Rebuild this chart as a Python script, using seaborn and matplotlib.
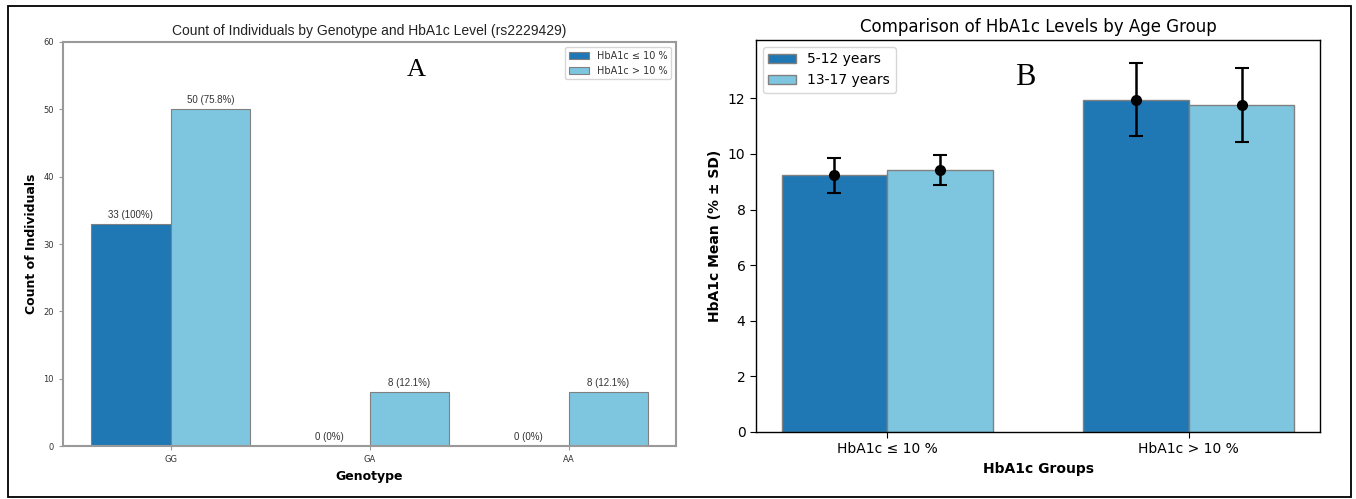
import numpy as np
import pandas as pd
import seaborn as sns
import matplotlib.pyplot as plt
from matplotlib.patches import Rectangle

# panel A data
genotypes = ["GG", "GA", "AA"]
levels = ["HbA1c \u2264 10 %", "HbA1c > 10 %"]
count_low = [33, 0, 0]
count_high = [50, 8, 8]
pct_low = ["100%", "0%", "0%"]
pct_high = ["75.8%", "12.1%", "12.1%"]

# panel B data
hba1c_groups = ["HbA1c \u2264 10 %", "HbA1c > 10 %"]
age_groups = ["5-12 years", "13-17 years"]
mean_young = [9.23, 11.95]
mean_old = [9.42, 11.76]
sd_young = [0.62, 1.32]
sd_old = [0.53, 1.33]

dark_blue = "#1f77b4"
light_blue = "#7ec6e0"

sns.set_style("white", {"text.color": "black", "axes.labelcolor": "black",
                        "xtick.color": "black", "ytick.color": "black"})
plt.rcParams['font.family'] = ['DejaVu Sans']

fig = plt.figure(figsize=(13.56, 4.99), dpi=100)
ax_a = fig.add_axes([0.0465, 0.106, 0.452, 0.810])
ax_b = fig.add_axes([0.5575, 0.1343, 0.416, 0.7857])

# outer frame round the whole figure
fig.patches.append(Rectangle((8 / 1356, 2 / 499), 1343 / 1356, 491 / 499,
                             transform=fig.transFigure, fill=False,
                             edgecolor="black", linewidth=1.3))

# ---------- Panel A ----------
df_a = pd.DataFrame({
    "Genotype": genotypes * 2,
    "Level": [levels[0]] * 3 + [levels[1]] * 3,
    "Count": count_low + count_high,
    "Label": ["{} ({})".format(c, p) for c, p in zip(count_low, pct_low)] +
             ["{} ({})".format(c, p) for c, p in zip(count_high, pct_high)],
})
sns.barplot(data=df_a, x="Genotype", y="Count", hue="Level", ax=ax_a,
            palette=[dark_blue, light_blue], edgecolor="grey", linewidth=0.8,
            width=0.8, saturation=1)
for cont, lvl in zip(ax_a.containers, levels):
    labs = df_a[df_a.Level == lvl]["Label"].tolist()
    ax_a.bar_label(cont, labels=labs, padding=3, fontsize=7, family="Liberation Sans", color="#333333")
ax_a.set_ylim(0, 60)
ax_a.set_xlim(-0.54, 2.54)
ax_a.set_yticks(np.arange(0, 61, 10))
ax_a.tick_params(axis="both", labelsize=6, colors="#999999", labelcolor="#333333",
                 length=3, left=True, bottom=True)
for s in ax_a.spines.values():
    s.set_color("#999999")
    s.set_linewidth(1.5)
ax_a.set_title("Count of Individuals by Genotype and HbA1c Level (rs2229429)",
               fontsize=10, family="Liberation Sans", color="#222222", pad=5)
ax_a.set_xlabel("Genotype", fontsize=9, fontweight="bold", labelpad=4)
ax_a.set_ylabel("Count of Individuals", fontsize=9, fontweight="bold")
leg = ax_a.legend(loc="upper right", fontsize=7, frameon=True)
leg.set_title(None)
for t in leg.get_texts():
    t.set_color("#333333")
ax_a.text(0.576, 0.93, "A", transform=ax_a.transAxes, ha="center", va="center",
          fontsize=19, family="Liberation Serif")

# ---------- Panel B ----------
df_b = pd.DataFrame({
    "Group": hba1c_groups * 2,
    "Age": [age_groups[0]] * 2 + [age_groups[1]] * 2,
    "Mean": mean_young + mean_old,
    "SD": sd_young + sd_old,
})
sns.barplot(data=df_b, x="Group", y="Mean", hue="Age", ax=ax_b,
            palette=[dark_blue, light_blue], edgecolor="grey", linewidth=1,
            width=0.7, saturation=1, errorbar=None)
for cont, age in zip(ax_b.containers, age_groups):
    sub = df_b[df_b.Age == age]
    xs = [p.get_x() + p.get_width() / 2 for p in cont.patches]
    ax_b.errorbar(xs, sub["Mean"], yerr=sub["SD"], fmt="o", color="black",
                  markersize=7, capsize=5, elinewidth=1.8, capthick=1.5)
ax_b.set_xlim(-0.435, 1.435)
ax_b.set_ylim(0, 14.1)
ax_b.set_yticks(np.arange(0, 13, 2))
ax_b.tick_params(axis="both", labelsize=10, length=4, left=True, bottom=True)
for s in ax_b.spines.values():
    s.set_color("black")
    s.set_linewidth(1)
ax_b.set_title("Comparison of HbA1c Levels by Age Group", fontsize=12)
ax_b.set_xlabel("HbA1c Groups", fontsize=10, fontweight="bold")
ax_b.set_ylabel("HbA1c Mean (% \u00b1 SD)", fontsize=10, fontweight="bold")
leg_b = ax_b.legend(loc="upper left", fontsize=10)
leg_b.set_title(None)
ax_b.text(0.477, 0.905, "B", transform=ax_b.transAxes, ha="center", va="center",
          fontsize=22, family="Liberation Serif")

fig.savefig("out.png", dpi=100)
